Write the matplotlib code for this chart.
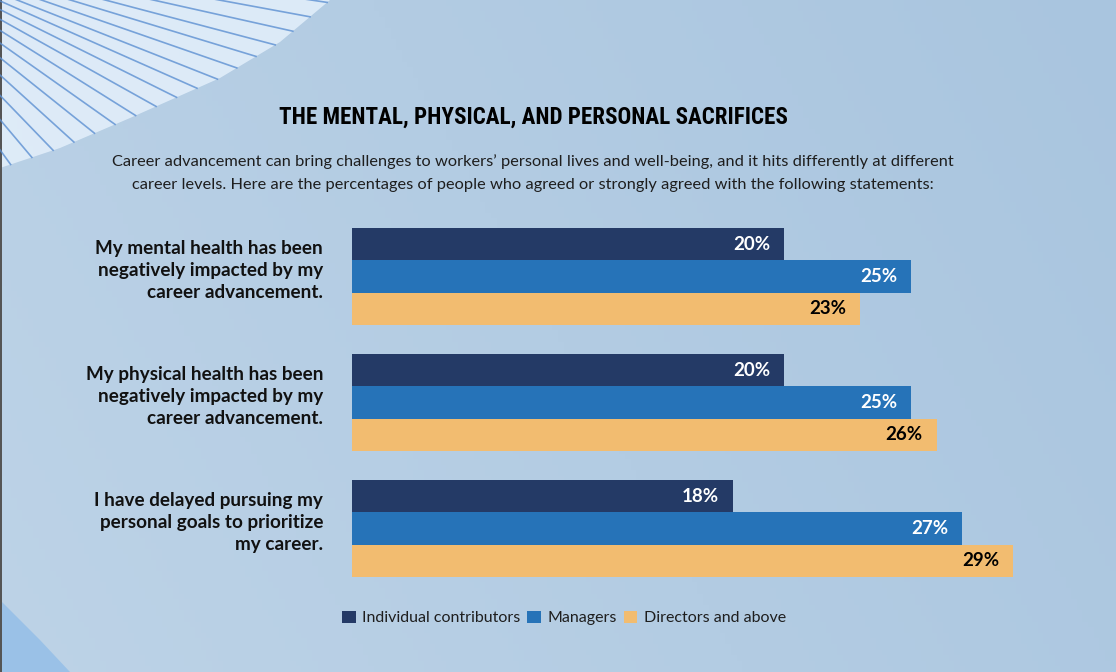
import numpy as np
import matplotlib.pyplot as plt
from matplotlib.patches import Polygon, Rectangle

# data
statements = ["My mental health has been\nnegatively impacted by my\ncareer advancement.",
              "My physical health has been\nnegatively impacted by my\ncareer advancement.",
              "I have delayed pursuing my\npersonal goals to prioritize\nmy career."]
series = ["Individual contributors", "Managers", "Directors and above"]
individual = [20, 20, 18]
managers = [25, 25, 27]
directors = [23, 26, 29]

colors = ["#243a66", "#2673b8", "#f2bc70"]
label_colors = ["white", "white", "black"]
FONT = "Lato"

W, H = 1116, 672
fig = plt.figure(figsize=(W / 100, H / 100), dpi=100)

# background
bg = fig.add_axes([0, 0, 1, 1])
gx = np.linspace(0, 1, 200)
gy = np.linspace(0, 1, 120)
GX, GY = np.meshgrid(gx, gy)
c0 = np.array([0xbd, 0xd3, 0xe7]) / 255
c1 = np.array([0xa9, 0xc5, 0xdf]) / 255
t = np.clip(0.75 * GX + 0.25 * (1 - GY), 0, 1)[..., None]
img = c0 * (1 - t) + c1 * t
bg.imshow(img, extent=[0, W, H, 0], aspect="auto")

# wing decoration top-left
edge = np.array([[0, 168], [60, 148], [130, 118], [220, 78], [280, 42], [330, 0]])
bg.add_patch(Polygon(np.vstack([[[0, 0]], edge]), closed=True, color="#e4f0fb", alpha=0.85, lw=0))
d = np.r_[0, np.cumsum(np.hypot(*np.diff(edge, axis=0).T))]
for s in np.linspace(0.03, 0.99, 17):
    ex = np.interp(s * d[-1], d, edge[:, 0])
    ey = np.interp(s * d[-1], d, edge[:, 1])
    bg.plot([-160, ex], [-70, ey], color="#5d90d2", lw=1.2, alpha=0.8)
bg.add_patch(Polygon([[0, 600], [40, 640], [70, 672], [0, 672]], closed=True,
                     color="#8cbbe8", alpha=0.7, lw=0))
bg.add_patch(Rectangle((0, 0), 2, H, color="#555555", lw=0))
bg.set_xlim(0, W)
bg.set_ylim(H, 0)
bg.axis("off")

# title / subtitle
fig.text(533 / W, 1 - 117 / H, "THE MENTAL, PHYSICAL, AND PERSONAL SACRIFICES",
         ha="center", va="center", fontsize=16.6, fontweight="bold", fontstretch="condensed",
         family=["Roboto Condensed", "DejaVu Sans"], color="black")
fig.text(533 / W, 1 - 173 / H,
         "Career advancement can bring challenges to workers\u2019 personal lives and well-being, and it hits differently at different\n"
         "career levels. Here are the percentages of people who agreed or strongly agreed with the following statements:",
         ha="center", va="center", fontsize=11.8, family=FONT, color="#1e1e1e", linespacing=1.75)

# bars
x0, px_per = 3.03, 25.45
ax_l, ax_r = 352, 1060
ax_t, ax_b = 210, 590
ax = fig.add_axes([ax_l / W, 1 - ax_b / H, (ax_r - ax_l) / W, (ax_b - ax_t) / H])
ax.set_xlim(x0, x0 + (ax_r - ax_l) / px_per)
gap = 126.0
ax.set_ylim((ax_b - 276.5) / gap, (ax_t - 276.5) / gap)
ax.axis("off")

bh = 32.5 / gap
pos = np.arange(len(statements))
for k, vals in enumerate([individual, managers, directors]):
    ys = pos + (k - 1) * bh
    ax.barh(ys, vals, height=bh, color=colors[k], left=0, label=series[k])
    for y, v in zip(ys, vals):
        ax.text(v - 0.55, y, f"{v}%", ha="right", va="center", fontsize=13.5,
                fontweight="bold", family=FONT, color=label_colors[k])

for p, s in zip(pos, statements):
    ax.text(x0 - 29 / px_per, p - 6 / gap, s, ha="right", va="center", fontsize=13.6,
            fontweight="bold", family=FONT, color="#111111", linespacing=1.36)

# legend
leg = fig.legend(loc="center", bbox_to_anchor=(564 / W, 1 - 618 / H), ncol=3, frameon=False,
                 handlelength=0.85, handleheight=0.85, handletextpad=0.4, columnspacing=0.45,
                 prop={"family": FONT, "size": 11.5})
for txt in leg.get_texts():
    txt.set_color("#1e1e1e")

fig.savefig("out.png", dpi=100)
